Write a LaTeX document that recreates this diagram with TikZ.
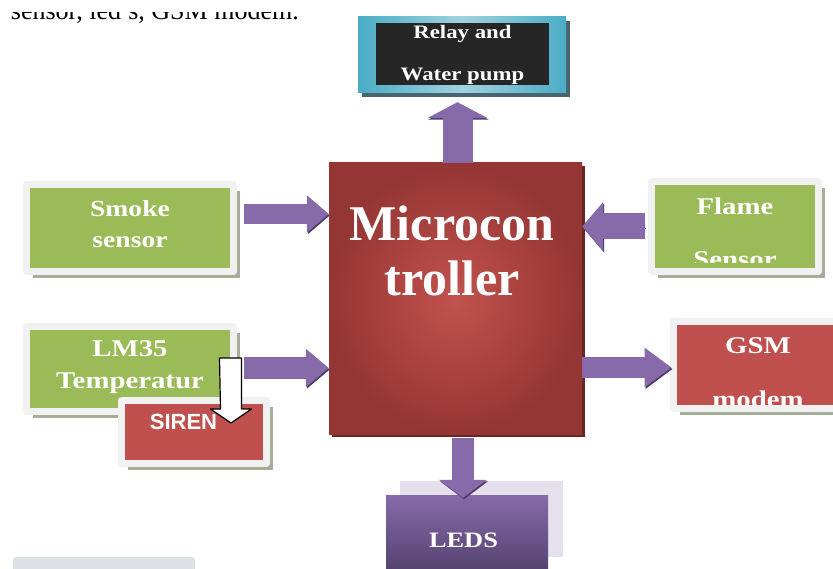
\documentclass[tikz,border=0pt]{standalone}
\usepackage{fontspec}
\setmainfont{Liberation Serif}
\setsansfont{Liberation Sans}
\newfontfamily\boxfont[FakeStretch=1.2]{Liberation Serif}
\usetikzlibrary{arrows.meta,shadows}
\definecolor{Ctrl}{RGB}{194,82,78}
\definecolor{CtrlEdge}{RGB}{148,54,52}
\definecolor{CtrlShade}{RGB}{105,38,36}
\definecolor{Gfill}{RGB}{155,187,89}
\definecolor{Frame}{RGB}{240,241,240}
\definecolor{FrameShade}{RGB}{166,173,152}
\definecolor{Rfill}{RGB}{192,80,77}
\definecolor{Cyan}{RGB}{75,172,198}
\definecolor{CyanLt}{RGB}{160,210,224}
\definecolor{CyanShade}{RGB}{72,100,110}
\definecolor{Dark}{RGB}{38,38,38}
\definecolor{Purp}{RGB}{134,106,170}
\definecolor{PurpDk}{RGB}{76,59,100}
\definecolor{PurpLt}{RGB}{229,224,236}
\definecolor{Bar}{RGB}{221,224,228}

\begin{document}
\begin{tikzpicture}[x=1pt,y=-1pt,line join=round,
  box/.style={rectangle,inner sep=0pt,draw=Frame,line width=7pt,
    drop shadow={shadow xshift=6.5pt,shadow yshift=-6.5pt,fill=FrameShade,opacity=1}},
  boxtext/.style 2 args={text=white,align=center,inner sep=0pt,
    font=\boxfont\bfseries\fontsize{#1}{#2}\selectfont},
  fatarrow/.style n args={3}{draw=Purp,line width=#1,-{Triangle[length=#2,width=#3]},
    preaction={draw=PurpDk,transform canvas={shift={(1pt,-1.5pt)}}}},
  sirenarrow/.style={draw=black,fill=white,line width=1.2pt}]
\useasboundingbox (0,0) rectangle (833,569);

% clipped line of text at the top
\begin{scope}
\clip (0,13) rectangle (420,40);
\node[anchor=base east,inner sep=0pt,font=\fontsize{26}{30}\selectfont] (note) at (299,20) {sensor, led's, GSM modem.};
\end{scope}
\fill[Bar,rounded corners=3pt] (13,557) rectangle (195,585);

% relay and pump
\node[rectangle,inner sep=0pt,minimum width=208pt,minimum height=76pt,
  left color=Cyan,right color=Cyan,middle color=CyanLt,
  drop shadow={shadow xshift=4pt,shadow yshift=-4pt,fill=CyanShade,opacity=1}] (relay) at (462,55) {};
\node[rectangle,inner sep=0pt,minimum width=173pt,minimum height=62pt,fill=Dark] (relayin) at (462.5,54) {};
\node[boxtext={19}{42}] (relaytxt) at ([yshift=-0.5pt]relayin) {Relay and\\Water pump};

% controller
\node[rectangle,inner sep=0pt,minimum width=253pt,minimum height=271pt,
  inner color=Ctrl,outer color=CtrlEdge,
  drop shadow={shadow xshift=3pt,shadow yshift=-3pt,fill=CtrlShade,opacity=1}] (micro) at (455.5,298.5) {};
\node[text=white,align=center,inner sep=0pt,font=\bfseries\fontsize{50}{55}\selectfont] (microtxt) at (452,250.5) {Microcon\\troller};

% sensors
\node[box,fill=Gfill,minimum width=207pt,minimum height=87pt] (smoke) at (130,228) {};
\node[boxtext={23}{30.5}] (smoketxt) at ([yshift=4pt]smoke) {Smoke\\sensor};
\node[box,fill=Gfill,minimum width=207pt,minimum height=85pt] (lm35) at (130,369) {};
\node[boxtext={24}{32}] (lm35txt) at ([yshift=1.5pt]lm35) {LM35\\Temperatur};
\node[box,fill=Gfill,minimum width=167pt,minimum height=90pt] (flame) at (735,226.5) {};
\begin{scope}
\clip (flame.north west) rectangle ([yshift=12.5pt]flame.south east);
\node[boxtext={24}{53}] (flametxt) at ([yshift=-6pt]flame) {Flame\\Sensor};
\end{scope}

% outputs
\node[box,fill=Rfill,minimum width=169pt,minimum height=87pt] (gsm) at (758,365) {};
\begin{scope}
\clip (gsm.north west) rectangle ([yshift=7.5pt]gsm.south east);
\node[boxtext={24}{54}] (gsmtxt) at ([yshift=-8pt]gsm) {GSM\\modem};
\end{scope}
\node[box,fill=Rfill,minimum width=145pt,minimum height=63pt] (siren) at (194,432) {};
\node[text=white,inner sep=0pt,font=\sffamily\bfseries\fontsize{22}{24}\selectfont] (sirentxt) at ([xshift=-10.5pt,yshift=10pt]siren) {SIREN};
\node[rectangle,inner sep=0pt,minimum width=163pt,minimum height=76pt,fill=PurpLt] (ledback) at (481.5,519) {};
\node[rectangle,inner sep=0pt,minimum width=162pt,minimum height=90pt,top color=Purp,bottom color=PurpDk] (led) at (467,540) {};
\node[boxtext={22}{24}] (ledtxt) at ([xshift=-3.5pt]led) {LEDS};

% arrows
\draw[fatarrow={20pt}{22pt}{36pt},shorten <=6.5pt] ([yshift=14pt]smoke.east) coordinate (s1) -- (s1 -| micro.west);
\draw[fatarrow={22pt}{23pt}{37pt},shorten <=6.5pt] ([yshift=1pt]lm35.east) coordinate (t1) -- (t1 -| micro.west);
\draw[fatarrow={26pt}{21pt}{48pt},shorten <=3.5pt] (flame.west) -- (flame.west -| micro.east);
\draw[fatarrow={21pt}{27pt}{38pt},shorten >=-1.5pt] ([yshift=-2.5pt]gsm.west) coordinate (g1) (g1 -| micro.east) -- (g1);
\draw[fatarrow={30pt}{16pt}{60pt},shorten >=9pt] ([xshift=2pt]micro.north) coordinate (u1) -- (u1 |- relay.south);
\draw[fatarrow={22pt}{18pt}{47pt},shorten <=4pt,shorten >=-3pt] ([xshift=7.5pt]micro.south) coordinate (d1) -- (d1 |- led.north);

% white arrow onto the siren
\coordinate (wtop) at ([xshift=-6.5pt,yshift=11pt]lm35.east);
\draw[sirenarrow] ([xshift=-11pt]wtop) -- ++(22,0) -- ++(0,51) -- ++(10,0) -- ++(-20.5,14)
  -- ++(-20.5,-14) -- ++(10,0) -- cycle;
\end{tikzpicture}
\end{document}
